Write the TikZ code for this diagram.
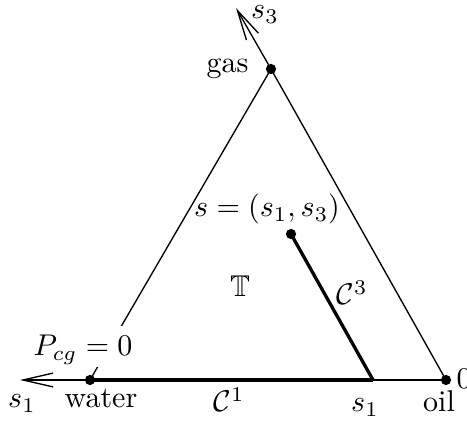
\documentclass[tikz,border=0pt]{standalone}
\usepackage{amssymb}
\usetikzlibrary{arrows.meta}
\begin{document}
\begin{tikzpicture}[x=0.3333pt,y=-0.3333pt,
  thinline/.style={line width=0.45pt},
  thickline/.style={line width=1.1pt},
  dot/.style={circle,fill=black,inner sep=0pt,minimum size=3.4pt},
  lbl/.style={inner sep=0pt,anchor=base},
  axisarrow/.style={thinline,-{Straight Barb[length=10pt,width=4.6pt]}}]
\useasboundingbox (0,0) rectangle (467,425);
\coordinate (w) at (90,380);
\coordinate (o) at (446,380);
\coordinate (g) at (271,69);
\coordinate (sp) at (291,234);
\coordinate (s1pt) at (373,380);
\coordinate (a1) at (20,380);
\coordinate (a3) at (236,8);
\draw[thinline] (w) -- (g) -- (o);
\draw[thinline] (s1pt) -- (o);
\draw[thickline] (w) -- (s1pt);
\draw[thickline] (sp) -- (s1pt);
\draw[axisarrow] (w) -- (a1);
\draw[axisarrow] (g) -- (a3);
\node[anchor=base,fill=white,inner xsep=3pt,inner ysep=1pt,text height=9pt,text depth=2.7pt] (pcg) at (83,356) {$P_{cg}=0$};
\node[dot] (water) at (w) {};
\node[dot] (oil) at (o) {};
\node[dot] (gas) at (g) {};
\node[dot] (s) at (sp) {};
\node[lbl] (s1left) at (22,408) {$s_1$};
\node[lbl] (wlab) at (101,408) {water};
\node[lbl] (c1) at (229,412) {$\mathcal{C}^1$};
\node[lbl] (s1lab) at (365,412) {$s_1$};
\node[lbl] (olab) at (439,412) {oil};
\node[inner sep=0pt,anchor=base east] (glab) at (249,73) {gas};
\node[lbl] (s3lab) at (265,19) {$s_3$};
\node[lbl] (slab) at (267,217) {$s=(s_1,s_3)$};
\node[lbl] (T) at (240,297) {$\mathbb{T}$};
\node[lbl] (c3) at (352,305) {$\mathcal{C}^3$};
\node[inner sep=0pt,anchor=west] (zero) at (456,379) {$0$};
\end{tikzpicture}
\end{document}
